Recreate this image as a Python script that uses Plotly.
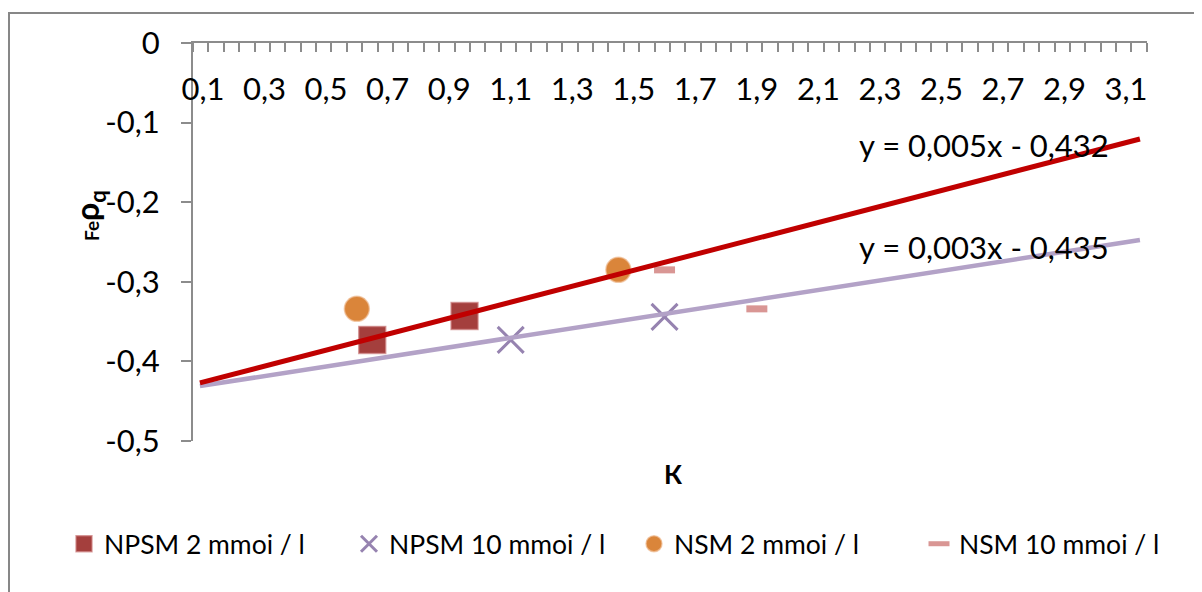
import plotly.graph_objects as go

# ---- data ----
npsm2_x = [0.65, 0.95]
npsm2_y = [-0.373, -0.343]
npsm10_x = [1.1, 1.6]
npsm10_y = [-0.373, -0.344]
nsm2_x = [0.6, 1.45]
nsm2_y = [-0.334, -0.285]
nsm10_x = [1.6, 1.9]
nsm10_y = [-0.285, -0.334]

trend_x = [0.09, 3.145]
trend_red_y = [-0.427, -0.1206]
trend_purple_y = [-0.431, -0.2475]

eq_red = "y = 0,005x - 0,432"
eq_purple = "y = 0,003x - 0,435"

x_tickvals = [0.1 + 0.2 * i for i in range(16)]
x_ticktext = ["0,1", "0,3", "0,5", "0,7", "0,9", "1,1", "1,3", "1,5", "1,7", "1,9",
              "2,1", "2,3", "2,5", "2,7", "2,9", "3,1"]
y_tickvals = [0, -0.1, -0.2, -0.3, -0.4, -0.5]
y_ticktext = ["0", "-0,1", "-0,2", "-0,3", "-0,4", "-0,5"]

FONT = "Lato"
W, H = 1202, 592
OFF = 8  # page body margin
L, T = 193 - OFF, 43 - OFF
R = W - (1147 - OFF)
B = H - (441 - OFF)
pw = W - L - R
ph = H - T - B
XR = [0.0675, 3.168]


def px2paper(px, py):
    """screen pixel (as seen in the page) -> paper coords"""
    return (px - OFF - L) / pw, (H - B - (py - OFF)) / ph


fig = go.Figure()
fig.add_trace(go.Scatter(x=npsm2_x, y=npsm2_y, mode="markers", name="NPSM 2 mmoi / l",
                         marker=dict(symbol="square", size=27, color="#A43F3D",
                                     line=dict(color="rgba(205,130,130,0.7)", width=1.5))))
fig.add_trace(go.Scatter(x=npsm10_x, y=npsm10_y, mode="markers", name="NPSM 10 mmoi / l",
                         marker=dict(symbol="x-thin", size=26, color="#9683B0",
                                     line=dict(color="#9683B0", width=3))))
fig.add_trace(go.Scatter(x=nsm2_x, y=nsm2_y, mode="markers", name="NSM 2 mmoi / l",
                         marker=dict(symbol="circle", size=25, color="#DA853A",
                                     line=dict(color="rgba(240,190,150,0.7)", width=1.5))))
fig.add_trace(go.Scatter(x=nsm10_x, y=nsm10_y, mode="markers", name="NSM 10 mmoi / l",
                         marker=dict(symbol="line-ew", size=15, color="#D99694",
                                     line=dict(color="#D99694", width=7))))
fig.add_trace(go.Scatter(x=trend_x, y=trend_purple_y, mode="lines", showlegend=False,
                         xaxis="x2", yaxis="y",
                         line=dict(color="#B3A2C7", width=4.5), hoverinfo="skip"))
fig.add_trace(go.Scatter(x=trend_x, y=trend_red_y, mode="lines", showlegend=False,
                         xaxis="x2", yaxis="y",
                         line=dict(color="#C00000", width=5), hoverinfo="skip"))

axis_gray = "#8C8C8C"
lab_pos = px2paper(0, 68)[1]

fig.update_layout(
    template="none",
    width=W, height=H, margin=dict(l=L, r=R, t=T, b=B, autoexpand=False),
    plot_bgcolor="white", paper_bgcolor="white",
    xaxis=dict(range=XR, side="top", anchor="y", showgrid=False, zeroline=False,
               showline=True, linecolor=axis_gray, linewidth=2,
               showticklabels=False, ticks="",
               minor=dict(ticks="inside", tick0=0.0675, dtick=0.05, ticklen=9,
                          tickwidth=2, tickcolor=axis_gray, showgrid=False)),
    xaxis2=dict(range=XR, overlaying="x", anchor="free", position=lab_pos, side="bottom",
                showgrid=False, zeroline=False, showline=False, ticks="",
                tickmode="array", tickvals=x_tickvals, ticktext=x_ticktext,
                tickfont=dict(family=FONT, size=31, color="black")),
    yaxis=dict(range=[-0.5, 0], showgrid=False, zeroline=False,
               showline=True, linecolor=axis_gray, linewidth=2,
               tickmode="array", tickvals=y_tickvals, ticktext=y_ticktext,
               ticks="outside", ticklen=10, tickwidth=2, tickcolor=axis_gray,
               ticklabelstandoff=15,
               tickfont=dict(family=FONT, size=31, color="black")),
)

annotations = []
ex, ey = px2paper(984, 145)
annotations.append(dict(x=ex, y=ey, xref="paper", yref="paper", text=eq_red, showarrow=False,
                        xanchor="center", yanchor="middle",
                        font=dict(family=FONT, size=31, color="black")))
ex, ey = px2paper(984, 247)
annotations.append(dict(x=ex, y=ey, xref="paper", yref="paper", text=eq_purple, showarrow=False,
                        xanchor="center", yanchor="middle",
                        font=dict(family=FONT, size=31, color="black")))
tx, ty = px2paper(673, 474)
annotations.append(dict(x=tx, y=ty, xref="paper", yref="paper", text="<b>К</b>", showarrow=False,
                        xanchor="center", yanchor="middle",
                        font=dict(family=FONT, size=26, color="black")))
yx, yy = px2paper(89, 216)
annotations.append(dict(x=yx, y=yy, xref="paper", yref="paper", textangle=-90,
                        xanchor="center", yanchor="middle",
                        text="<b><span style='font-size:19px'>Fe</span>ρ<sub>q</sub></b>",
                        showarrow=False, font=dict(family=FONT, size=32, color="black")))

bx0, by1 = px2paper(9, 13)
shapes = [dict(type="rect", xref="paper", yref="paper", x0=bx0, y0=-0.6, x1=1.2, y1=by1,
               line=dict(color="#878787", width=2), fillcolor="rgba(0,0,0,0)", layer="below")]

lx, ly = px2paper(64, 544)
fig.update_layout(
    annotations=annotations, shapes=shapes,
    legend=dict(orientation="h", x=lx, y=ly, xanchor="left", yanchor="middle",
                font=dict(family=FONT, size=26.5, color="black"),
                entrywidth=240, entrywidthmode="pixels", itemwidth=30,
                bgcolor="rgba(0,0,0,0)", borderwidth=0),
)

fig.write_html("out.html")
